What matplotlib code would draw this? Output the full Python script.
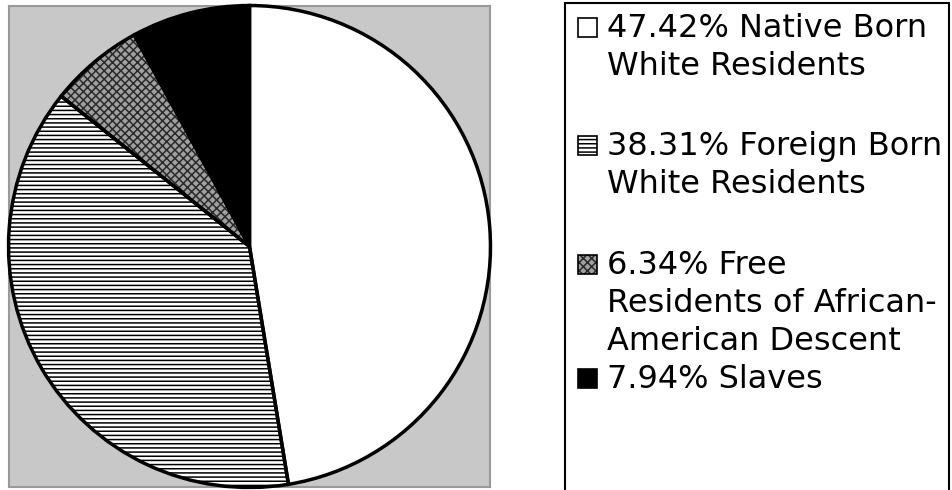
import matplotlib
matplotlib.use('Agg')
import matplotlib.pyplot as plt
from matplotlib.patches import Rectangle

# Population shares (percent)
groups = ['Native Born White Residents', 'Foreign Born White Residents',
          'Free Residents of African-American Descent', 'Slaves']
shares = [47.42, 38.31, 6.34, 7.94]
legend_lines = [['47.42% Native Born', 'White Residents'],
                ['38.31% Foreign Born', 'White Residents'],
                ['6.34% Free', 'Residents of African-', 'American Descent'],
                ['7.94% Slaves']]

fills = ['white', 'white', '#a0a0a0', 'black']
hatches = [None, '----', 'xxxx', None]
hatch_colors = ['white', 'black', '#2a2a2a', 'black']

W, H = 952, 490
plt.rcParams['hatch.linewidth'] = 1.1
plt.rcParams['font.family'] = ['DejaVu Sans']
fig = plt.figure(figsize=(W / 100, H / 100), dpi=100)


def fx(px):
    return px / W


def fy(py):
    return 1 - py / H


# Chart 1 pie inside a grey box
ax = fig.add_axes([fx(9), fy(487), fx(481), 481 / H])

wedges, _ = ax.pie(shares, startangle=90, counterclock=False, radius=1.002,
                   colors=fills, wedgeprops=dict(linewidth=0))
for w, h, hc in zip(wedges, hatches, hatch_colors):
    w.set_edgecolor(hc)
    w.set_linewidth(0)
    if h:
        w.set_hatch(h)
    w.set_clip_on(False)
    w.set_zorder(3)

outline, _ = ax.pie(shares, startangle=90, counterclock=False, radius=1.002,
                    wedgeprops=dict(fill=False, edgecolor='black', linewidth=2.5))
for w in outline:
    w.set_clip_on(False)
    w.set_zorder(4)

ax.set_frame_on(True)
ax.set_facecolor('#c8c8c8')
for s in ax.spines.values():
    s.set_visible(True)
    s.set_color('#999999')
    s.set_linewidth(1.5)
    s.set_zorder(1)
ax.set_xticks([])
ax.set_yticks([])
ax.set_xlim(-1, 1)
ax.set_ylim(-1, 1)

# Legend drawn by hand
fig.patches.append(Rectangle((fx(565), fy(500)), fx(949) - fx(565), fy(3) - fy(500),
                             transform=fig.transFigure, fill=False,
                             edgecolor='black', linewidth=1.5, clip_on=False))

baselines = [[37, 75], [155, 193], [274, 312, 350], [388]]
for lines, bls, fc, h, hc in zip(legend_lines, baselines, fills, hatches, hatch_colors):
    marker = Rectangle((fx(578), fy(bls[0])), fx(19), 19 / H,
                       transform=fig.transFigure, facecolor=fc,
                       edgecolor=hc, linewidth=0, hatch=h)
    fig.patches.append(marker)
    fig.patches.append(Rectangle((fx(578), fy(bls[0])), fx(19), 19 / H,
                                 transform=fig.transFigure, fill=False,
                                 edgecolor='black', linewidth=1.2))
    for txt, b in zip(lines, bls):
        fig.text(fx(607), fy(b), txt, fontsize=23, va='baseline', ha='left')

fig.savefig('out.png', dpi=100)
